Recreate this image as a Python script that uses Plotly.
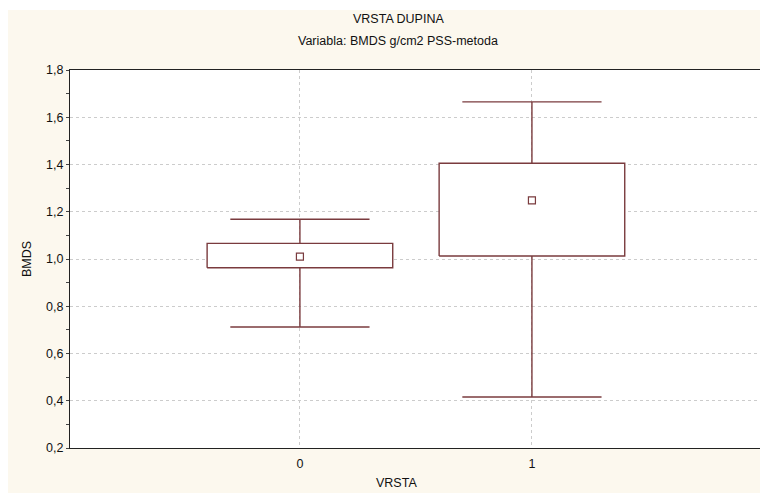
import plotly.graph_objects as go

# ---- data ----
categories = [0, 1]
tick_labels = ["0", "1"]
minimum = [0.712, 0.416]
q1 = [0.963, 1.013]
median = [1.010, 1.248]
q3 = [1.066, 1.405]
maximum = [1.168, 1.665]

title = "VRSTA DUPINA"
subtitle = "Variabla: BMDS g/cm2 PSS-metoda"

# ---- style ----
LINE = "#7a3b3e"
CREAM = "#fcf8ee"
GRID = "#cccccc"
FONT = "Liberation Sans, Arial, sans-serif"
BOX_HALF = 0.4
CAP_HALF = 0.3

W, H = 760, 493
ML, MR, MT, MB = 70, 0, 70, 45
PW, PH = W - ML - MR, H - MT - MB

def px_to_paper_x(px):
    return (px - ML) / PW

def px_to_paper_y(py):
    return (H - MB - py) / PH

fig = go.Figure()

for c, lo, a, m, b, hi in zip(categories, minimum, q1, median, q3, maximum):
    fig.add_trace(go.Scatter(
        x=[c - BOX_HALF, c + BOX_HALF, c + BOX_HALF, c - BOX_HALF, c - BOX_HALF],
        y=[a, a, b, b, a], mode="lines",
        line=dict(color=LINE, width=1.4), fill="toself", fillcolor="white",
        hoverinfo="skip", showlegend=False))
    fig.add_trace(go.Scatter(
        x=[c, c, None, c, c, None, c - CAP_HALF, c + CAP_HALF, None, c - CAP_HALF, c + CAP_HALF],
        y=[b, hi, None, a, lo, None, hi, hi, None, lo, lo], mode="lines",
        line=dict(color=LINE, width=1.4), hoverinfo="skip", showlegend=False))

fig.add_trace(go.Scatter(
    x=categories, y=median, mode="markers",
    marker=dict(symbol="square-open", size=7, color=LINE, line=dict(width=1.2)),
    showlegend=False))

def ann(text, px, py, angle=0):
    return dict(text=text, x=px_to_paper_x(px), y=px_to_paper_y(py), xref="paper", yref="paper",
                xanchor="center", yanchor="middle", showarrow=False, textangle=angle,
                font=dict(size=12.5, family=FONT, color="#111111"))

fig.update_layout(
    width=W, height=H,
    margin=dict(l=ML, r=MR, t=MT, b=MB),
    paper_bgcolor="white", plot_bgcolor="white",
    separators=",.",
    font=dict(family=FONT, size=12, color="#111111"),
    showlegend=False,
    shapes=[
        dict(type="rect", xref="paper", yref="paper", layer="below",
             x0=px_to_paper_x(8), x1=1, y0=px_to_paper_y(H + 5), y1=px_to_paper_y(10),
             fillcolor=CREAM, line=dict(width=0)),
        dict(type="rect", xref="paper", yref="paper", layer="below",
             x0=0, x1=1, y0=0, y1=1,
             fillcolor="white", line=dict(width=0)),
    ],
    annotations=[
        ann(title, 398, 19),
        ann(subtitle, 398, 41),
        ann("BMDS", 27, 259, -90),
        ann("VRSTA", 396, 483),
    ],
)

fig.update_xaxes(
    range=[-0.991, 1.983], tickvals=categories, ticktext=tick_labels,
    showgrid=True, gridcolor=GRID, griddash="dot", gridwidth=1,
    zeroline=False, showline=True, linecolor="#222222", linewidth=1.2, mirror=True,
    ticks="", ticklabelstandoff=4, tickfont=dict(size=12.5),
)
fig.update_yaxes(
    range=[0.2, 1.8], tickvals=[0.2, 0.4, 0.6, 0.8, 1.0, 1.2, 1.4, 1.6, 1.8], tickformat=".1f",
    showgrid=True, gridcolor=GRID, griddash="dot", gridwidth=1,
    zeroline=False, showline=True, linecolor="#222222", linewidth=1.2,
    ticks="outside", ticklen=3, tickcolor="#444444",
    minor=dict(dtick=0.1, ticks="outside", ticklen=3, tickcolor="#444444", showgrid=False),
    tickfont=dict(size=12.5),
)

fig.write_html("out.html")
